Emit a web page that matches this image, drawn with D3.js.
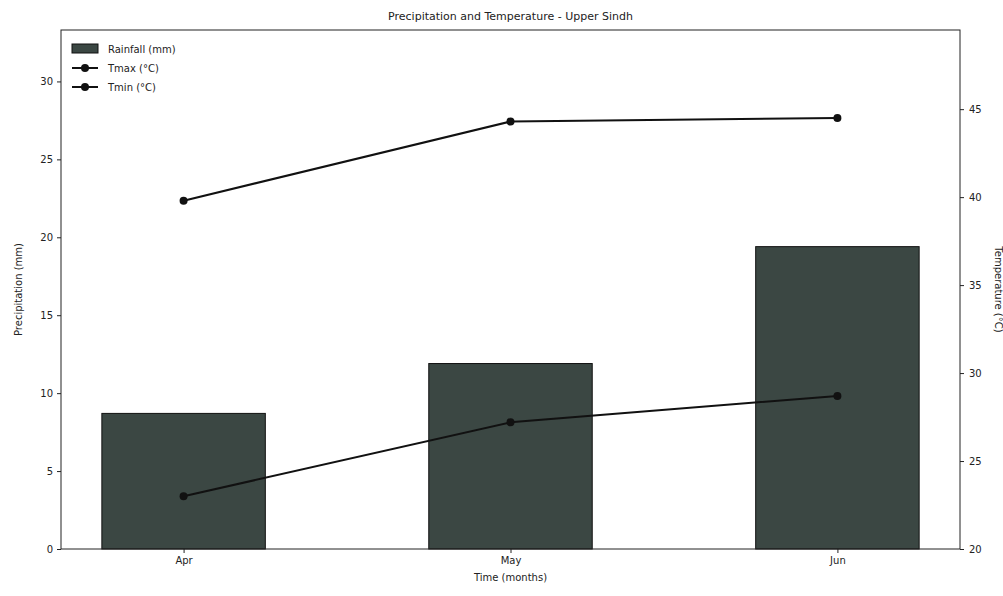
<!DOCTYPE html>
<html><head><meta charset="utf-8">
<script src="https://cdn.jsdelivr.net/npm/d3@7"></script>
<style>body{margin:0;background:#fff}svg{display:block;font-family:"DejaVu Sans",sans-serif}</style>
</head><body><svg id="c" width="1003" height="596"></svg>
<script>
const months = ["Apr","May","Jun"];
const rainfall = [8.7, 11.9, 19.4];
const tmax = [39.8, 44.3, 44.5];
const tmin = [23.0, 27.2, 28.7];
const rainTicks = [0,5,10,15,20,25,30];
const tempTicks = [20,25,30,35,40,45];

const svg = d3.select("#c");
const L=61,R=960,T=30,B=549;
const x = d3.scaleLinear().domain([-0.375,2.375]).range([L,R]);
const yL = d3.scaleLinear().domain([0,33.3]).range([B,T]);
const yR = d3.scaleLinear().domain([20,49.5]).range([B,T]);
const bw = x(0.5)-x(0);

svg.selectAll("rect.bar").data(rainfall).join("rect").attr("class","bar")
  .attr("x",(d,i)=>x(i)-bw/2).attr("width",bw)
  .attr("y",d=>yL(d)).attr("height",d=>B-yL(d))
  .attr("fill","#3b4743").attr("stroke","#111").attr("stroke-width",1);

function drawLine(vals){
  const line = d3.line().x((d,i)=>x(i)).y(d=>yR(d));
  svg.append("path").datum(vals).attr("d",line).attr("fill","none").attr("stroke","#111").attr("stroke-width",2);
  svg.selectAll(null).data(vals).join("circle").attr("cx",(d,i)=>x(i)).attr("cy",d=>yR(d)).attr("r",4).attr("fill","#111");
}
drawLine(tmax); drawLine(tmin);

// frame
svg.append("rect").attr("x",L).attr("y",T).attr("width",R-L).attr("height",B-T).attr("fill","none").attr("stroke","#222").attr("stroke-width",1);

const fs = "10px";
const axL = svg.append("g").attr("transform",`translate(${L},0)`).call(d3.axisLeft(yL).tickValues(rainTicks).tickSize(4).tickPadding(4));
const axR = svg.append("g").attr("transform",`translate(${R},0)`).call(d3.axisRight(yR).tickValues(tempTicks).tickSize(4).tickPadding(5));
const axB = svg.append("g").attr("transform",`translate(0,${B})`).call(d3.axisBottom(x).tickValues([0,1,2]).tickFormat(i=>months[i]).tickSize(4).tickPadding(4));
[axL,axR,axB].forEach(g=>{g.select(".domain").remove();g.selectAll("text").attr("font-size",fs).attr("fill","#222").attr("font-family","DejaVu Sans");g.selectAll("line").attr("stroke","#222");});

svg.append("text").attr("x",(L+R)/2).attr("y",20).attr("text-anchor","middle").attr("font-size","11px").attr("fill","#222").text("Precipitation and Temperature - Upper Sindh");
svg.append("text").attr("x",(L+R)/2).attr("y",581).attr("text-anchor","middle").attr("font-size","10px").attr("fill","#222").text("Time (months)");
svg.append("text").attr("transform",`translate(22,${(T+B)/2}) rotate(-90)`).attr("text-anchor","middle").attr("font-size","10px").attr("fill","#222").text("Precipitation (mm)");
svg.append("text").attr("transform",`translate(995,${(T+B)/2}) rotate(90)`).attr("text-anchor","middle").attr("font-size","10px").attr("fill","#222").text("Temperature (°C)");

// legend
const lg = svg.append("g").attr("transform",`translate(${L+11},${T+10})`);
lg.append("rect").attr("x",0).attr("y",4).attr("width",26).attr("height",9).attr("fill","#3b4743").attr("stroke","#111");
lg.append("text").attr("x",36).attr("y",13).attr("font-size","10px").attr("fill","#222").text("Rainfall (mm)");
["Tmax (°C)","Tmin (°C)"].forEach((t,k)=>{
  const yy = 28 + k*19;
  lg.append("line").attr("x1",0).attr("x2",26).attr("y1",yy).attr("y2",yy).attr("stroke","#111").attr("stroke-width",2);
  lg.append("circle").attr("cx",13).attr("cy",yy).attr("r",4).attr("fill","#111");
  lg.append("text").attr("x",36).attr("y",yy+4).attr("font-size","10px").attr("fill","#222").text(t);
});
</script></body></html>
